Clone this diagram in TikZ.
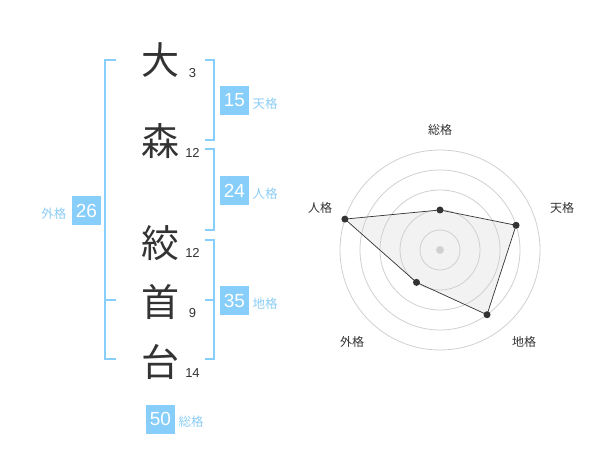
\documentclass[tikz,border=0pt]{standalone}
\usepackage{fontspec}
\setmainfont{Liberation Sans}
\newfontfamily\jpfont{Noto Sans CJK JP}
\definecolor{kakublue}{RGB}{135,206,250}
\definecolor{kakutext}{RGB}{140,205,245}
\definecolor{ink}{RGB}{51,51,51}
\definecolor{ringgray}{RGB}{208,208,208}
\definecolor{areagray}{RGB}{242,242,242}
\tikzset{
  kanji/.style={font=\jpfont\fontsize{38}{38}\selectfont, text=ink, inner sep=0pt},
  strokes/.style={font=\fontsize{13}{13}\selectfont, text=ink, inner sep=0pt},
  kakubox/.style={fill=kakublue, text=white, minimum size=29pt, inner sep=0pt, font=\fontsize{19}{19}\selectfont},
  kakuname/.style={font=\jpfont\fontsize{12.5}{12.5}\selectfont, text=kakutext, inner sep=0pt},
  bracket/.style={draw=kakublue, line width=2pt},
  ring/.style={draw=ringgray, line width=0.8pt},
  axisname/.style={font=\jpfont\fontsize{12}{12}\selectfont, text=ink, inner sep=0pt},
  dot/.style={circle, fill=ink, inner sep=0pt, minimum size=7pt}
}
\begin{document}
\begin{tikzpicture}[x=1pt,y=-1pt]
        \useasboundingbox (0,0) rectangle (600,470);
        \node[kanji] (k1) at (160,60) {大};
        \node[kanji] (k2) at (160,141) {森};
        \node[kanji] (k3) at (160,243) {絞};
        \node[kanji] (k4) at (160,302) {首};
        \node[kanji] (k5) at (160,362) {台};
        \node[strokes] (s1) at (192.5,73) {3};
        \node[strokes] (s2) at (192.5,153) {12};
        \node[strokes] (s3) at (192.5,253) {12};
        \node[strokes] (s4) at (192.5,313) {9};
        \node[strokes] (s5) at (192.5,373) {14};
        \draw[bracket] (116,60) -- (105,60) -- (105,359) -- (116,359);
        \draw[bracket] (105,300) -- (116,300);
        \draw[bracket] (205,60) -- (214,60) -- (214,140) -- (205,140);
        \draw[bracket] (205,149) -- (214,149) -- (214,230) -- (205,230);
        \draw[bracket] (205,240) -- (214,240) -- (214,359) -- (205,359);
        \draw[bracket] (214,300) -- (205,300);
        \node[kakubox] (ten) at (234.5,100.5) {15};
        \node[kakubox] (jin) at (234.5,190.5) {24};
        \node[kakubox] (chi) at (234.5,300.5) {35};
        \node[kakubox] (gai) at (86.5,210.5) {26};
        \node[kakubox] (sou) at (160.5,419) {50};
        \node[kakuname, anchor=west] (ten-name) at (252.5,104) {天格};
        \node[kakuname, anchor=west] (jin-name) at (252.5,194) {人格};
        \node[kakuname, anchor=west] (chi-name) at (252.5,304) {地格};
        \node[kakuname, anchor=east] (gai-name) at (66.5,214) {外格};
        \node[kakuname, anchor=west] (sou-name) at (178.5,422) {総格};
        \coordinate (c) at (440,250);
        \path (c) ++(-90:40) coordinate (p-sou);
        \path (c) ++(-18:80) coordinate (p-ten);
        \path (c) ++(54:80) coordinate (p-chi);
        \path (c) ++(126:40) coordinate (p-gai);
        \path (c) ++(198:100) coordinate (p-jin);
        \fill[areagray] (p-sou) -- (p-ten) -- (p-chi) -- (p-gai) -- (p-jin) -- cycle;
        \draw[ring] (c) circle[radius=20];
        \draw[ring] (c) circle[radius=40];
        \draw[ring] (c) circle[radius=60];
        \draw[ring] (c) circle[radius=80];
        \draw[ring] (c) circle[radius=100];
        \fill[ringgray] (c) circle[radius=4];
        \draw[ink, line width=0.7pt] (p-sou) -- (p-ten) -- (p-chi) -- (p-gai) -- (p-jin) -- cycle;
        \node[dot] (d-sou) at (p-sou) {};
        \node[dot] (d-ten) at (p-ten) {};
        \node[dot] (d-chi) at (p-chi) {};
        \node[dot] (d-gai) at (p-gai) {};
        \node[dot] (d-jin) at (p-jin) {};
        \node[axisname] (a-sou) at (440,130) {総格};
        \node[axisname] (a-ten) at (562,208) {天格};
        \node[axisname] (a-jin) at (320,208) {人格};
        \node[axisname] (a-chi) at (524,342) {地格};
        \node[axisname] (a-gai) at (352,342) {外格};
    \end{tikzpicture}
\end{document}
